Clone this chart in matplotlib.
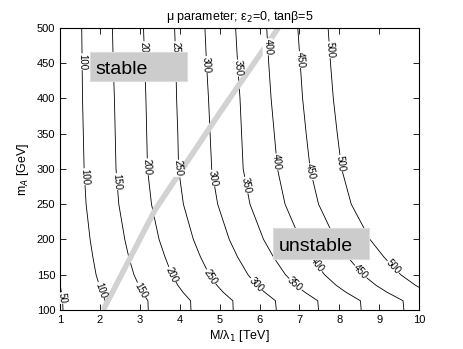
import numpy as np
import matplotlib.pyplot as plt
from matplotlib.patches import Rectangle

plt.rcParams['font.family'] = ['Liberation Sans', 'DejaVu Sans']

# y nodes (m_A in GeV) where the contour x positions were read
y_nodes = [100, 113, 125, 135, 150, 175, 200, 250, 300, 350, 400, 450, 500]

# x position (M/lambda_1 in TeV) of each contour at the y nodes
levels = [100, 150, 200, 250, 300, 350, 400, 450, 500]
cx = {
    100: [2.14, 2.13, 2.04, 1.98, 1.90, 1.82, 1.75, 1.65, 1.60, 1.58, 1.56, 1.55, 1.54],
    150: [3.21, 3.20, 3.06, 2.97, 2.85, 2.72, 2.62, 2.47, 2.40, 2.38, 2.36, 2.33, 2.31],
    200: [4.28, 4.27, 4.08, 3.95, 3.80, 3.63, 3.48, 3.29, 3.19, 3.17, 3.15, 3.12, 3.09],
    250: [5.34, 5.33, 5.09, 4.93, 4.74, 4.52, 4.34, 4.09, 3.97, 3.95, 3.92, 3.90, 3.87],
    300: [6.42, 6.40, 6.13, 5.93, 5.71, 5.45, 5.24, 4.95, 4.80, 4.76, 4.72, 4.67, 4.63],
    350: [7.48, 7.46, 7.14, 6.91, 6.65, 6.35, 6.10, 5.76, 5.59, 5.55, 5.51, 5.45, 5.40],
    400: [8.55, 8.53, 8.17, 7.92, 7.63, 7.29, 7.02, 6.64, 6.45, 6.37, 6.29, 6.23, 6.18],
    450: [9.62, 9.60, 9.20, 8.92, 8.59, 8.21, 7.90, 7.48, 7.27, 7.17, 7.08, 7.02, 6.96],
    500: [None, None, 10.22, 9.91, 9.54, 9.12, 8.77, 8.30, 8.06, 7.95, 7.85, 7.78, 7.72],
}
# the small 50 contour in the lower left corner
c50_x = [1.07, 1.06, 1.03, 1.00]
c50_y = [100, 113, 125, 135]

# heights at which the contour labels sit
label_y = {
    50: [117],
    100: [452, 289, 128],
    150: [282, 128],
    200: [469, 303, 150],
    250: [469, 301, 147],
    300: [448, 287, 136],
    350: [443, 277, 136],
    400: [473, 310, 164],
    450: [455, 296, 154],
    500: [469, 308, 161],
}

# stability boundary (thick grey band)
band_x = [2.08, 3.38, 4.97, 6.47]
band_y = [100, 242, 377, 500]

fig = plt.figure(figsize=(4.63, 3.49), dpi=100)
ax = fig.add_axes([0.130, 0.112, 0.775, 0.808])

lines = {}
for lev in levels:
    xs = [x for x in cx[lev] if x is not None]
    ys = [y for x, y in zip(cx[lev], y_nodes) if x is not None]
    lines[lev] = (np.array(xs), np.array(ys))
lines[50] = (np.array(c50_x), np.array(c50_y))

for lev, (xs, ys) in lines.items():
    ax.plot(xs, ys, color='black', lw=0.6, zorder=2)

ax.plot(band_x, band_y, color='#d2d2d2', lw=4.0, solid_capstyle='butt', zorder=2.5)

ax.set_xlim(1, 10)
ax.set_ylim(100, 500)
fig.canvas.draw()

# contour labels, rotated along the line
for lev, ylist in label_y.items():
    xs, ys = lines[lev]
    order = np.argsort(ys)
    for yl in ylist:
        xl = np.interp(yl, ys[order], xs[order])
        x1 = np.interp(yl + 8, ys[order], xs[order])
        x0 = np.interp(yl - 8, ys[order], xs[order])
        p1 = ax.transData.transform((x1, yl + 8))
        p0 = ax.transData.transform((x0, yl - 8))
        ang = np.degrees(np.arctan2(p0[1] - p1[1], p0[0] - p1[0]))
        ax.text(xl, yl, str(lev), fontsize=7, rotation=ang, rotation_mode='anchor',
                ha='center', va='center', zorder=3, clip_on=True,
                bbox=dict(facecolor='white', edgecolor='none', pad=0.3))

# annotation boxes
ax.add_patch(Rectangle((1.75, 424), 2.43, 42, facecolor='#cccccc',
                       edgecolor='#dddddd', lw=0.8, zorder=4))
ax.text(1.88, 435, 'stable', fontsize=14, zorder=5)
ax.add_patch(Rectangle((6.35, 172), 2.40, 44, facecolor='#cccccc',
                       edgecolor='#dddddd', lw=0.8, zorder=4))
ax.text(6.49, 184, 'unstable', fontsize=14, zorder=5)

ax.set_xticks(range(1, 11))
ax.set_yticks(range(100, 501, 50))
ax.tick_params(direction='in', top=True, right=True, length=4, width=0.6, labelsize=8)
for s in ax.spines.values():
    s.set_linewidth(0.8)

ax.set_title('μ parameter; ε$_2$=0, tanβ=5', fontsize=9)
ax.set_xlabel('M/λ$_1$ [TeV]', fontsize=9, labelpad=2)
ax.set_ylabel('m$_A$ [GeV]', fontsize=9, labelpad=4)

fig.savefig('out.png', dpi=100)
